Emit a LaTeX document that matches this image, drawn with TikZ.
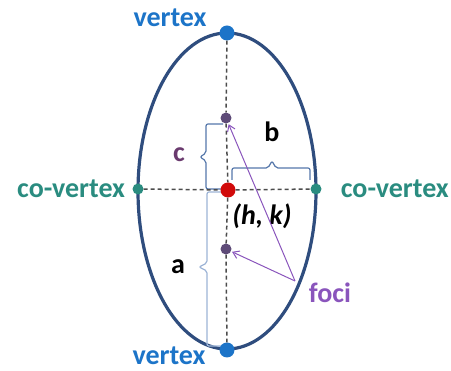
\documentclass[tikz,border=0pt]{standalone}
\usepackage{fontspec}
\setmainfont{Carlito}
\usetikzlibrary{arrows.meta,positioning,calc}
\definecolor{rimblue}{HTML}{2F4D7E}
\definecolor{vertblue}{HTML}{1C74C8}
\definecolor{coteal}{HTML}{2A8C80}
\definecolor{ctrred}{HTML}{D10A0A}
\definecolor{focdot}{HTML}{5E4B78}
\definecolor{focpurple}{HTML}{8A55BC}
\definecolor{cpurple}{HTML}{6A3A6E}
\definecolor{bracedark}{HTML}{5577AA}
\definecolor{bracelight}{HTML}{9DB4D6}

\begin{document}
\begin{tikzpicture}[x=1pt,y=-1pt,
  dot/.style={circle,inner sep=0pt,minimum size=#1},
  lbl/.style={font=\bfseries\fontsize{28}{30}\selectfont,inner sep=0pt},
  axisline/.style={dashed,dash pattern=on 4pt off 3pt,line width=1.5pt,black!70},
  bracket/.style={line width=1.2pt,rounded corners=2pt},
  pointer/.style={-{Straight Barb[length=6pt,width=8pt]},line width=1pt,focpurple,shorten >=1pt}]
\useasboundingbox (0,0) rectangle (451,371);
% Ellipse
\draw[line width=3.2pt,rimblue] (227,191) ellipse [x radius=89, y radius=158];
% braces for c, a and b
\draw[bracket,bracedark] (223,124) -- (206,124) -- (206,153) -- (200,157) -- (206,161) -- (206,189) -- (221,189);
\draw[bracket,bracelight] (221,192) -- (207,192) -- (207,263) -- (199,267) -- (207,271) -- (207,346) -- (222,346);
\draw[bracket,bracedark] (232,180) -- (232,168) -- (268,168) -- (272,161) -- (276,168) -- (310,168) -- (310,180);
% points
\node[dot=15pt,fill=vertblue] (top) at (227,33) {};
\node[dot=15pt,fill=vertblue] (bot) at (227,350) {};
\node[dot=11pt,fill=coteal] (left) at (138,189) {};
\node[dot=11pt,fill=coteal] (right) at (316,189) {};
\node[dot=15pt,fill=ctrred] (ctr) at (228,190) {};
\node[dot=11pt,fill=focdot] (f1) at (226,118) {};
\node[dot=11pt,fill=focdot] (f2) at (226,249) {};
% axes
\draw[axisline] (top) -- (f1) -- (ctr) -- (f2) -- (bot);
\draw[axisline] (left) -- (ctr) -- (right);
% labels
\node[lbl,text=vertblue] (topLbl) at (170,18) {vertex};
\node[lbl,text=vertblue] (botLbl) at (169,356) {vertex};
\node[lbl,text=coteal,left=7pt of left] (leftLbl) {co-vertex};
\node[lbl,text=coteal,right=19pt of right] (rightLbl) {co-vertex};
\node[lbl] (hk) at (262,216) {\itshape(h, k)};
\node[lbl,text=cpurple] (cLbl) at (179,155) {c};
\node[lbl] (aLbl) at (178,267) {a};
\node[lbl] (bLbl) at (272,132) {b};
\node[lbl,text=focpurple] (fociLbl) at (330,293) {foci};
% arrows to foci
\coordinate (fociTail) at (295,281);
\draw[pointer] (fociTail) -- (f1);
\draw[pointer] (fociTail) -- (f2);
\end{tikzpicture}
\end{document}
